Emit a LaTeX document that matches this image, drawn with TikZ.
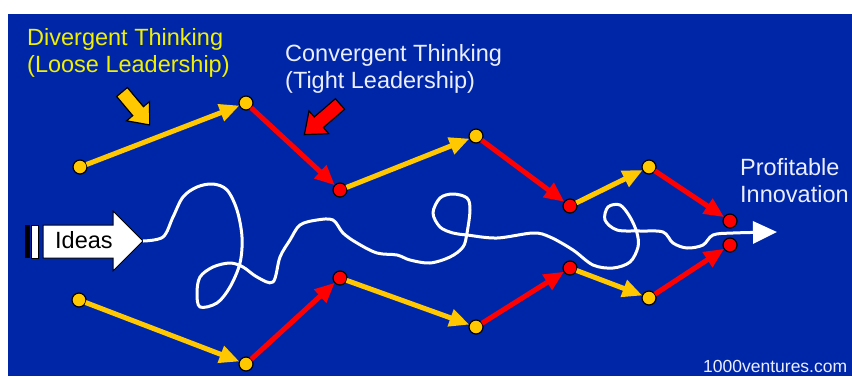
\documentclass[tikz,border=0pt]{standalone}
\usepackage{fontspec}
\setmainfont{Liberation Sans}
\usetikzlibrary{arrows.meta}
\definecolor{bg}{RGB}{0,38,168}
\definecolor{ylw}{RGB}{255,200,0}
\definecolor{rd}{RGB}{255,0,0}
\definecolor{ytxt}{RGB}{240,240,0}
\definecolor{wtxt}{RGB}{235,238,255}
\begin{document}
\begin{tikzpicture}[x=1pt,y=-1pt,
  dot/.style={circle,draw=black,line width=1.2pt,minimum size=14pt,inner sep=0pt,outer sep=0pt},
  ydot/.style={dot,fill=ylw},
  rdot/.style={dot,fill=rd},
  yline/.style={draw=ylw,line width=5pt,-{Triangle[length=20pt,width=17pt]}},
  rline/.style={draw=rd,line width=5pt,-{Triangle[length=20pt,width=17pt]}},
  lbl/.style={inner sep=0pt,anchor=base west,font=\fontsize{23.5}{27}\selectfont},
  ylbl/.style={lbl,text=ytxt},
  wlbl/.style={lbl,text=wtxt},
  blockarrow/.style={draw=black,line width=1.2pt,line join=miter}
]
\useasboundingbox (0,0) rectangle (852,376);
\fill[white] (0,0) rectangle (852,376);
\fill[bg] (8,14) rectangle (852,376);

% Ideas arrow
\fill[black] (25,225) rectangle (30,258);
\filldraw[fill=white,draw=black,line width=1pt] (31,225) rectangle (38,258);
\filldraw[fill=white,draw=black,line width=1pt]
  (43,225) -- (113,225) -- (113,211) -- (143,241) -- (113,271) -- (113,258) -- (43,258) -- cycle;
\coordinate (ideastip) at (143,241);
\node[lbl,text=black] (ideas) at (55,248) {Ideas};

% squiggle
\coordinate (goal) at (777,232);
\draw[white,line width=3pt,line join=round,-{Triangle[length=24pt,width=22pt]}]
  plot[smooth,tension=0.55] coordinates {
  (ideastip) (163,237) (173,217) (183,197) (197,187) (213,184) (227,190) (237,210)
  (242,237) (240,263) (230,287) (217,303) (200,307) (197,293) (200,277) (213,267)
  (230,263) (243,267) (257,277) (273,282) (280,257) (290,240) (300,225) (317,220)
  (333,220) (343,233) (357,243) (377,253) (397,255) (410,260) (430,263) (450,257)
  (463,247) (467,233) (470,210) (467,198) (453,194) (440,198) (433,213) (440,227)
  (453,233) (467,235) (497,238) (533,233) (550,237) (573,250) (593,265) (613,268)
  (630,262) (638,247) (637,233) (630,217) (620,205) (608,207) (605,220) (617,230)
  (640,231) (663,232) (673,243) (687,248) (703,245) (713,235) (733,233) (goal)};

% dots
\node[ydot] (A1) at (80,167) {};
\node[ydot] (A2) at (246,103) {};
\node[rdot] (A3) at (340,190) {};
\node[ydot] (A4) at (476,136) {};
\node[rdot] (A5) at (570,206) {};
\node[ydot] (A6) at (649,167) {};
\node[rdot] (A7) at (730,221) {};
\node[ydot] (B1) at (79,300) {};
\node[ydot] (B2) at (246,364) {};
\node[rdot] (B3) at (340,278) {};
\node[ydot] (B4) at (476,327) {};
\node[rdot] (B5) at (570,268) {};
\node[ydot] (B6) at (649,298) {};
\node[rdot] (B7) at (730,245) {};

\draw[yline] (A1) -- (A2);
\draw[rline] (A2) -- (A3);
\draw[yline] (A3) -- (A4);
\draw[rline] (A4) -- (A5);
\draw[yline] (A5) -- (A6);
\draw[rline] (A6) -- (A7);
\draw[yline] (B1) -- (B2);
\draw[rline] (B2) -- (B3);
\draw[yline] (B3) -- (B4);
\draw[rline] (B4) -- (B5);
\draw[yline] (B5) -- (B6);
\draw[rline] (B6) -- (B7);

% block arrows
\begin{scope}[shift={(122,92)},rotate=-50]
  \filldraw[blockarrow,fill=ylw] (0,-7) -- (25,-7) -- (25,-15) -- (43,0) -- (25,15) -- (25,7) -- (0,7) -- cycle;
\end{scope}
\begin{scope}[shift={(340,104)},rotate=220.7]
  \filldraw[blockarrow,fill=rd] (0,-7) -- (28,-7) -- (28,-15) -- (47,0) -- (28,15) -- (28,7) -- (0,7) -- cycle;
\end{scope}

% labels
\node[ylbl] (div) at (27,45) {Divergent Thinking};
\node[ylbl] (loose) at (27,72) {(Loose Leadership)};
\node[wlbl] (conv) at (285,61) {Convergent Thinking};
\node[wlbl] (tight) at (285,88) {(Tight Leadership)};
\node[wlbl] (prof) at (740,175) {Profitable};
\node[wlbl] (innov) at (740,202) {Innovation};
\node[inner sep=0pt,anchor=base west,text=wtxt,font=\fontsize{17.5}{20}\selectfont] (site) at (703,372) {1000ventures.com};
\end{tikzpicture}
\end{document}
